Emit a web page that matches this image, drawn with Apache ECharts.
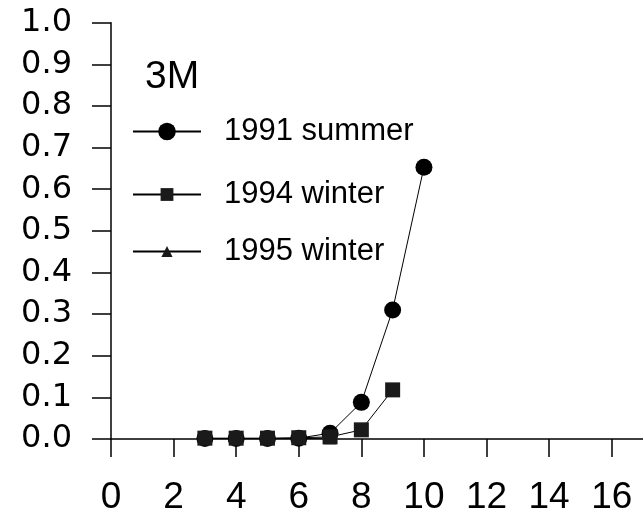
<!DOCTYPE html>
<html>
<head>
<meta charset="utf-8">
<script src="https://cdn.jsdelivr.net/npm/echarts@6/dist/echarts.min.js"></script>
<style>
  html, body { margin: 0; padding: 0; background: #fff; }
  #chart { width: 643px; height: 518px; }
</style>
</head>
<body>
<div id="chart"></div>
<script>
// Ratio vs. time for the 3M sample, three campaigns
const xTicks = [0, 2, 4, 6, 8, 10, 12, 14, 16];

const summer1991X = [3, 4, 5, 6, 7, 8, 9, 10];
const summer1991Y = [0.001, 0.001, 0.001, 0.002, 0.014, 0.088, 0.31, 0.653];

const winter1994X = [3, 4, 5, 6, 7, 8, 9];
const winter1994Y = [0.002, 0.002, 0.002, 0.003, 0.005, 0.022, 0.118];

const winter1995X = [3, 4, 5, 6, 7];
const winter1995Y = [0.001, 0.001, 0.001, 0.001, 0.002];

const pairs = (xs, ys) => xs.map((x, i) => [x, ys[i]]);

const sansFont = '"Liberation Sans", Arial, sans-serif';
const ink = '#000';

const chart = echarts.init(document.getElementById('chart'), null, { renderer: 'canvas' });

// one legend block per series so each icon keeps its own marker size
function legendFor(name, top, h) {
  return {
    data: [name],
    left: 132,
    top: top,
    orient: 'vertical',
    padding: 0,
    itemWidth: 68,
    itemHeight: h,
    selectedMode: false,
    textStyle: {
      fontFamily: sansFont,
      fontSize: 31,
      color: ink,
      padding: [0, 0, 0, 18]
    }
  };
}

chart.setOption({
  animation: false,
  backgroundColor: '#fff',
  title: {
    text: '3M',
    left: 145,
    top: 58,
    padding: 0,
    textStyle: { fontFamily: sansFont, fontSize: 39, fontWeight: 'normal', color: ink }
  },
  legend: [
    legendFor('1991 summer', 116, 22),
    legendFor('1994 winter', 179, 16),
    legendFor('1995 winter', 236, 14)
  ],
  grid: { left: 111, right: 0, top: 22.7, bottom: 79, containLabel: false },
  xAxis: {
    type: 'value',
    min: 0,
    max: 17,
    splitLine: { show: false },
    axisLine: { show: true, onZero: false, lineStyle: { color: ink, width: 1.5 } },
    axisTick: {
      show: true, inside: false, length: 18,
      customValues: xTicks,
      lineStyle: { color: ink, width: 1.5 }
    },
    axisLabel: {
      customValues: xTicks,
      margin: 40,
      fontFamily: sansFont,
      fontSize: 37,
      color: ink
    }
  },
  yAxis: {
    type: 'value',
    min: 0,
    max: 1,
    interval: 0.1,
    splitLine: { show: false },
    axisLine: { show: true, lineStyle: { color: ink, width: 1.5 } },
    axisTick: { show: true, inside: false, length: 19, lineStyle: { color: ink, width: 1.5 } },
    axisLabel: {
      margin: 39,
      fontFamily: '"DejaVu Sans", sans-serif',
      fontSize: 32,
      color: ink,
      formatter: v => v.toFixed(1)
    }
  },
  series: [
    {
      name: '1995 winter',
      type: 'line',
      data: pairs(winter1995X, winter1995Y),
      symbol: 'triangle',
      symbolSize: 12,
      itemStyle: { color: '#1a1a1a' },
      lineStyle: { color: ink, width: 1 },
      z: 2
    },
    {
      name: '1991 summer',
      type: 'line',
      data: pairs(summer1991X, summer1991Y),
      symbol: 'circle',
      symbolSize: 17,
      itemStyle: { color: '#000' },
      lineStyle: { color: ink, width: 1 },
      z: 3
    },
    {
      name: '1994 winter',
      type: 'line',
      data: pairs(winter1994X, winter1994Y),
      symbol: 'rect',
      symbolSize: 15,
      itemStyle: { color: '#1a1a1a' },
      lineStyle: { color: ink, width: 1 },
      z: 4
    }
  ]
});
</script>
</body>
</html>
